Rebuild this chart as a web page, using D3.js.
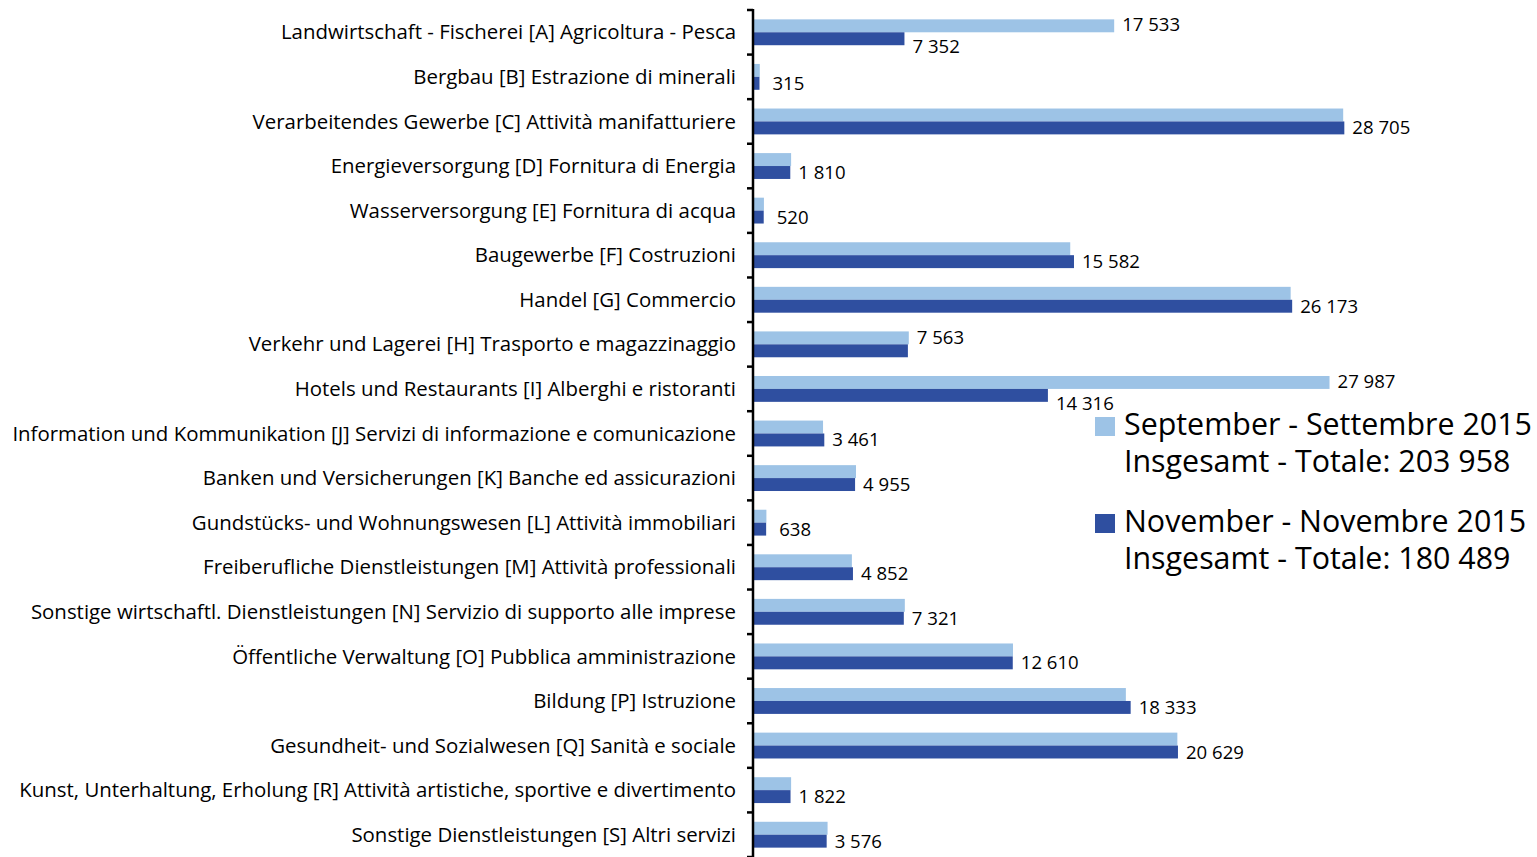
<!DOCTYPE html>
<html>
<head>
<meta charset="utf-8">
<script src="https://cdn.jsdelivr.net/npm/d3@7"></script>
<style>
  body { margin: 0; background: #fff; }
  svg { display: block; font-family: "Open Sans", Lato, sans-serif; }
</style>
</head>
<body>
<svg id="chart" width="1537" height="857"></svg>
<script>
const categories = [
  "Landwirtschaft - Fischerei [A] Agricoltura - Pesca",
  "Bergbau [B] Estrazione di minerali",
  "Verarbeitendes Gewerbe [C] Attività manifatturiere",
  "Energieversorgung [D] Fornitura di Energia",
  "Wasserversorgung [E] Fornitura di acqua",
  "Baugewerbe [F] Costruzioni",
  "Handel [G] Commercio",
  "Verkehr und Lagerei [H] Trasporto e magazzinaggio",
  "Hotels und Restaurants [I] Alberghi e ristoranti",
  "Information und Kommunikation [J] Servizi di informazione e comunicazione",
  "Banken und Versicherungen [K] Banche ed assicurazioni",
  "Gundstücks- und Wohnungswesen [L] Attività immobiliari",
  "Freiberufliche Dienstleistungen [M] Attività professionali",
  "Sonstige wirtschaftl. Dienstleistungen [N] Servizio di supporto alle imprese",
  "Öffentliche Verwaltung [O] Pubblica amministrazione",
  "Bildung [P] Istruzione",
  "Gesundheit- und Sozialwesen [Q] Sanità e sociale",
  "Kunst, Unterhaltung, Erholung [R] Attività artistiche, sportive e divertimento",
  "Sonstige Dienstleistungen [S] Altri servizi"
]

// September 2015 (estimated where no label is printed)
const september = [17533, 330, 28650, 1850, 530, 15400, 26100, 7563, 27987, 3400,
  5000, 650, 4800, 7370, 12620, 18100, 20600, 1850, 3620]
// November 2015 (Verkehr estimated)
const november = [7352, 315, 28705, 1810, 520, 15582, 26173, 7519, 14316, 3461,
  4955, 638, 4852, 7321, 12610, 18333, 20629, 1822, 3576]

// which value labels are printed in the original
const septemberLabelShown = [true, false, false, false, false, false, false, true, true, false,
  false, false, false, false, false, false, false, false, false]
const novemberLabelShown = [true, true, true, true, true, true, true, false, true, true,
  true, true, true, true, true, true, true, true, true]

const seriesNames = ["September - Settembre 2015", "November - Novembre 2015"]
const seriesTotals = ["Insgesamt - Totale: 203 958", "Insgesamt - Totale: 180 489"]

const lightColor = "#9dc3e6"
const darkColor = "#2f4fa0"

const svg = d3.select("#chart")
const axisX = 753

// pick a font size so that a sample text has the wanted width
function fitSize(sample, width, base) {
  const t = svg.append("text").attr("font-size", base).text(sample)
  const w = t.node().getComputedTextLength()
  t.remove()
  return base * width / w
}
const catSize = fitSize(categories[9], 724, 20)
const valSize = fitSize("17 533", 58, 17)
const legSize = fitSize(seriesNames[0], 408, 27)

const x = d3.scaleLinear().domain([0, 30000]).range([axisX, 1371])

const y = d3.scaleBand()
  .domain(categories)
  .range([10, 857])
  .paddingInner(0.42)
  .paddingOuter(0.21)

const ySub = d3.scaleBand().domain([0, 1]).range([0, y.bandwidth()])

const fmt = v => d3.format(",")(v).replace(/,/g, " ")

const rows = categories.map((c, i) => ({
  cat: c,
  vals: [september[i], november[i]],
  shown: [septemberLabelShown[i], novemberLabelShown[i]]
}))

const colors = [lightColor, darkColor]

const g = svg.selectAll("g.cat")
  .data(rows)
  .join("g")
  .attr("class", "cat")
  .attr("transform", d => `translate(0,${y(d.cat)})`)

g.selectAll("rect")
  .data(d => d.vals.map((v, k) => ({v, k})))
  .join("rect")
  .attr("x", x(0))
  .attr("y", d => ySub(d.k))
  .attr("width", d => x(d.v) - x(0))
  .attr("height", ySub.bandwidth())
  .attr("fill", d => colors[d.k])

// value labels
g.each(function(d) {
  const both = d.shown[0] && d.shown[1]
  d.vals.forEach((v, k) => {
    if (!d.shown[k]) return
    const txt = fmt(v)
    const gap = txt.length < 4 ? 13 : 8
    let cy = ySub(k) + ySub.bandwidth() / 2
    if (both && k === 1) cy += 8
    if (both && k === 0) cy -= 1
    d3.select(this).append("text")
      .attr("x", x(v) + gap)
      .attr("y", cy)
      .attr("dy", "0.35em")
      .attr("font-size", valSize)
      .attr("fill", "#000")
      .text(txt)
  })
})

// category labels
svg.append("g").selectAll("text")
  .data(categories)
  .join("text")
  .attr("x", axisX - 17)
  .attr("y", d => y(d) + y.bandwidth() / 2)
  .attr("dy", "0.35em")
  .attr("text-anchor", "end")
  .attr("font-size", catSize)
  .attr("fill", "#000")
  .text(d => d)

// axis line and ticks between categories
const step = y.step()
const tickYs = categories.map(c => y(c) - step * 0.21).concat([857])
svg.append("g").selectAll("line")
  .data(tickYs)
  .join("line")
  .attr("x1", axisX - 6)
  .attr("x2", axisX)
  .attr("y1", d => d)
  .attr("y2", d => d)
  .attr("stroke", "#000")
  .attr("stroke-width", 2.5)

svg.append("line")
  .attr("x1", axisX).attr("x2", axisX)
  .attr("y1", 9).attr("y2", 857)
  .attr("stroke", "#000")
  .attr("stroke-width", 2.5)

// legend
const legend = svg.append("g")
const legendTops = [417, 514]
seriesNames.forEach((name, k) => {
  const top = legendTops[k]
  legend.append("rect")
    .attr("x", 1095).attr("y", top)
    .attr("width", 20).attr("height", 19)
    .attr("fill", colors[k])
  legend.append("text")
    .attr("x", 1124).attr("y", top + 18)
    .attr("font-size", legSize)
    .attr("fill", "#000")
    .text(name)
  legend.append("text")
    .attr("x", 1124).attr("y", top + 55)
    .attr("font-size", legSize)
    .attr("fill", "#000")
    .text(seriesTotals[k])
})
</script>
</body>
</html>
